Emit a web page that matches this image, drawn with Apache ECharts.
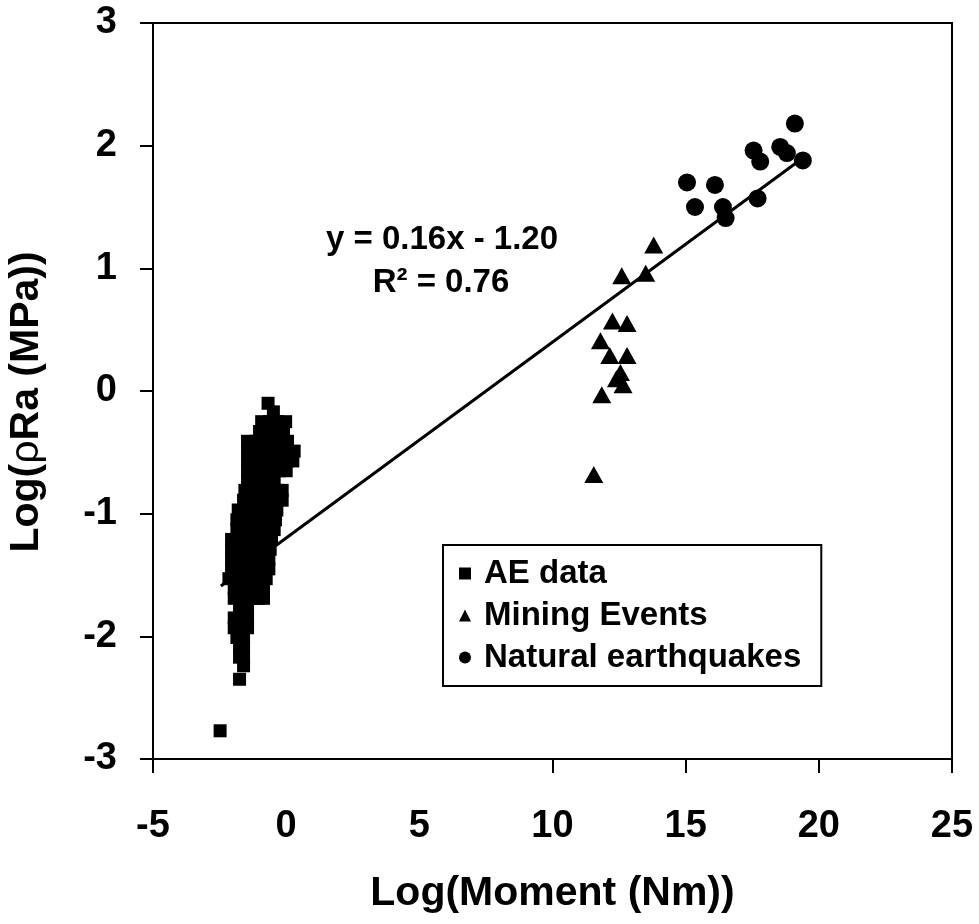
<!DOCTYPE html>
<html>
<head>
<meta charset="utf-8">
<script src="https://cdn.jsdelivr.net/npm/echarts@6/dist/echarts.min.js"></script>
<style>
html,body{margin:0;padding:0;background:#fff;}
#chart{width:979px;height:924px;}
</style>
</head>
<body>
<div id="chart"></div>
<script>
// ---- data ----
var xTickValues = [-5, 10, 15, 20, 25];
var yTickValues = [-3, -2, -1, 0, 1, 2, 3];
var seriesNames = ['AE data', 'Mining Events', 'Natural earthquakes'];

var aeData = [
  [-0.68,-0.10],
  [-0.48,-0.17],
  [-0.92,-0.25],[-0.62,-0.25],[-0.32,-0.25],[-0.02,-0.25],
  [-1.00,-0.33],[-0.70,-0.33],[-0.40,-0.33],[-0.10,-0.33],
  [-1.45,-0.41],[-1.15,-0.41],[-0.85,-0.41],[-0.55,-0.41],[-0.25,-0.41],[0.05,-0.41],
  [-1.45,-0.49],[-1.15,-0.49],[-0.85,-0.49],[-0.55,-0.49],[-0.25,-0.49],[0.05,-0.49],[0.30,-0.49],
  [-1.45,-0.57],[-1.15,-0.57],[-0.85,-0.57],[-0.55,-0.57],[-0.25,-0.57],[0.05,-0.57],[0.25,-0.57],
  [-1.45,-0.65],[-1.15,-0.65],[-0.85,-0.65],[-0.55,-0.65],[-0.25,-0.65],[0.00,-0.65],
  [-1.45,-0.73],[-1.15,-0.73],[-0.85,-0.73],[-0.55,-0.73],[-0.45,-0.73],
  [-1.55,-0.81],[-1.25,-0.81],[-0.95,-0.81],[-0.65,-0.81],[-0.35,-0.81],[-0.15,-0.81],
  [-1.60,-0.89],[-1.30,-0.89],[-1.00,-0.89],[-0.70,-0.89],[-0.40,-0.89],[-0.15,-0.89],
  [-1.80,-0.97],[-1.50,-0.97],[-1.20,-0.97],[-0.90,-0.97],[-0.60,-0.97],[-0.35,-0.97],
  [-1.85,-1.05],[-1.55,-1.05],[-1.25,-1.05],[-0.95,-1.05],[-0.65,-1.05],[-0.40,-1.05],
  [-1.85,-1.13],[-1.55,-1.13],[-1.25,-1.13],[-0.95,-1.13],[-0.65,-1.13],[-0.45,-1.13],
  [-2.05,-1.21],[-1.75,-1.21],[-1.45,-1.21],[-1.15,-1.21],[-0.85,-1.21],[-0.55,-1.21],
  [-2.05,-1.29],[-1.75,-1.29],[-1.45,-1.29],[-1.15,-1.29],[-0.85,-1.29],[-0.60,-1.29],
  [-2.05,-1.37],[-1.75,-1.37],[-1.45,-1.37],[-1.15,-1.37],[-0.85,-1.37],[-0.65,-1.37],
  [-2.05,-1.45],[-1.75,-1.45],[-1.45,-1.45],[-1.15,-1.45],[-0.85,-1.45],[-0.65,-1.45],
  [-2.15,-1.53],[-1.85,-1.53],[-1.55,-1.53],[-1.25,-1.53],[-0.95,-1.53],[-0.75,-1.53],
  [-1.95,-1.61],[-1.65,-1.61],[-1.35,-1.61],[-1.05,-1.61],[-0.85,-1.61],
  [-1.95,-1.69],[-1.65,-1.69],[-1.35,-1.69],[-1.05,-1.69],[-0.85,-1.69],
  [-1.75,-1.77],[-1.45,-1.77],
  [-1.95,-1.85],[-1.70,-1.85],[-1.45,-1.85],
  [-1.95,-1.93],[-1.70,-1.93],[-1.45,-1.93],
  [-1.85,-2.01],[-1.60,-2.01],
  [-1.75,-2.09],[-1.60,-2.09],
  [-1.75,-2.17],[-1.60,-2.17],
  [-1.60,-2.24],
  [-1.75,-2.35],
  [-2.48,-2.77]
];

var miningData = [
  [13.80,1.19],[12.60,0.94],[13.50,0.96],[12.25,0.57],[12.80,0.55],
  [11.80,0.41],[12.15,0.29],[12.80,0.29],[12.55,0.15],[12.65,0.05],
  [12.40,0.10],[11.85,-0.03],[11.55,-0.68]
];

var naturalData = [
  [19.10,2.18],[17.55,1.96],[17.80,1.87],[18.55,1.99],[18.80,1.94],[19.40,1.88],
  [15.05,1.70],[16.10,1.68],[15.35,1.50],[16.40,1.50],[16.50,1.41],[17.70,1.57]
];

var trendLine = [[-2.45,-1.59],[19.40,1.90]];
var equationText = 'y = 0.16x - 1.20';
var r2Text = 'R\u00b2 = 0.76';

// ---- chart ----
var FONT = '"Liberation Sans", Arial, Helvetica, sans-serif';
var chart = echarts.init(document.getElementById('chart'), null, {renderer: 'canvas'});

var option = {
  backgroundColor: '#fff',
  animation: false,
  grid: {
    left: 153, right: 27, top: 23, bottom: 165,
    outerBoundsMode: 'none', containLabel: false,
    show: true, borderColor: '#000', borderWidth: 2, backgroundColor: 'transparent'
  },
  xAxis: {
    type: 'value', min: -5, max: 25, interval: 5,
    name: 'Log(Moment (Nm))', nameLocation: 'middle', nameGap: 114,
    nameTextStyle: {fontFamily: FONT, fontWeight: 'bold', fontSize: 41, color: '#000'},
    axisLine: {show: true, onZero: false, lineStyle: {color: '#000', width: 2}},
    axisTick: {show: true, length: 14, lineStyle: {color: '#000', width: 2}, customValues: xTickValues},
    axisLabel: {margin: 49, fontFamily: FONT, fontWeight: 'bold', fontSize: 38, color: '#000'},
    splitLine: {show: false}
  },
  yAxis: {
    type: 'value', min: -3, max: 3, interval: 1,
    name: 'Log({r|\u03c1}Ra (MPa))', nameLocation: 'middle', nameGap: 106, nameRotate: 90,
    nameTextStyle: {fontFamily: FONT, fontWeight: 'bold', fontSize: 41, color: '#000',
      padding: [0, 22, 0, 0],
      rich: {r: {fontFamily: FONT, fontWeight: 'normal', fontSize: 41, color: '#000'}}},
    axisLine: {show: true, onZero: false, lineStyle: {color: '#000', width: 2}},
    axisTick: {show: true, length: 13, lineStyle: {color: '#000', width: 2}, customValues: yTickValues},
    axisLabel: {margin: 36, fontFamily: FONT, fontWeight: 'bold', fontSize: 38, color: '#000'},
    splitLine: {show: false}
  },
  legend: {
    orient: 'vertical', left: 443, top: 545,
    data: seriesNames,
    padding: [12, 20, 12, 16],
    itemWidth: 12, itemHeight: 12, itemGap: 9,
    borderColor: '#000', borderWidth: 2, backgroundColor: '#fff',
    textStyle: {fontFamily: FONT, fontWeight: 'bold', fontSize: 33, color: '#000', padding: [0, 0, 0, 8]}
  },
  series: [
    {name: seriesNames[0], type: 'scatter', data: aeData, symbol: 'rect', symbolSize: 13,
     itemStyle: {color: '#000', opacity: 1}, z: 3},
    {name: seriesNames[1], type: 'scatter', data: miningData, symbol: 'triangle', symbolSize: [19, 17],
     itemStyle: {color: '#000', opacity: 1}, z: 3},
    {name: seriesNames[2], type: 'scatter', data: naturalData, symbol: 'circle', symbolSize: 18,
     itemStyle: {color: '#000', opacity: 1}, z: 3},
    {name: 'trend', type: 'line', data: trendLine, symbol: 'none', silent: true,
     lineStyle: {color: '#000', width: 3}, z: 4}
  ],
  graphic: [
    {type: 'text', x: 442, y: 240, style: {text: equationText, font: 'bold 33px ' + FONT,
      fill: '#000', textAlign: 'center', textVerticalAlign: 'middle'}},
    {type: 'text', x: 441, y: 283, style: {text: r2Text, font: 'bold 33px ' + FONT,
      fill: '#000', textAlign: 'center', textVerticalAlign: 'middle'}}
  ]
};
chart.setOption(option);
</script>
</body>
</html>
